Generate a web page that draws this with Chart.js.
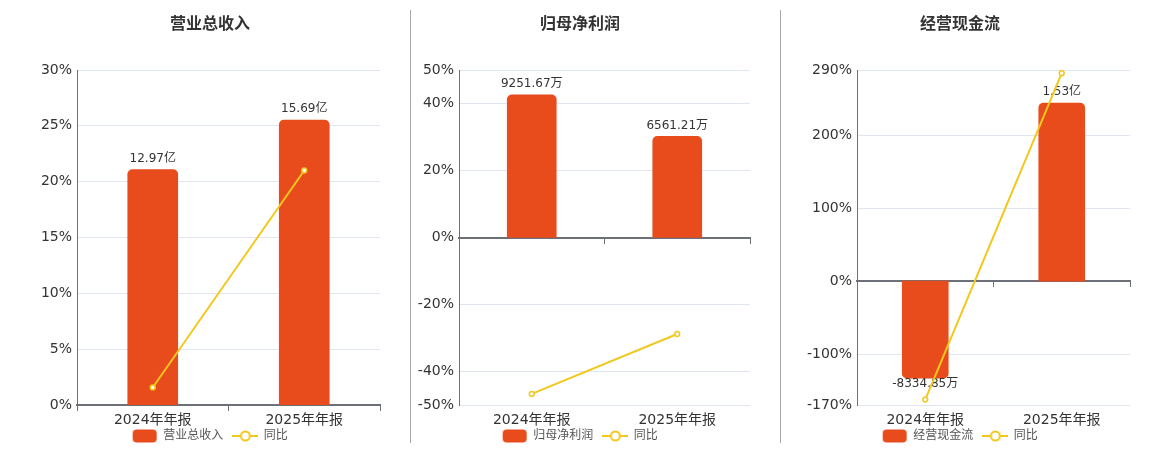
<!DOCTYPE html>
<html><head><meta charset="utf-8">
<script src="https://cdn.jsdelivr.net/npm/chart.js@4.4.1/dist/chart.umd.min.js"></script>
<style>
html,body{margin:0;padding:0;background:#fff;}
#wrap{position:relative;width:1160px;height:450px;overflow:hidden;background:#fff;}
.panel{position:absolute;top:0;width:360px;height:450px;}
.sep{position:absolute;top:10px;width:1px;height:433px;background:#a8a8a8;z-index:5;}
</style></head><body>
<div id="wrap">
<div class="panel" style="left:30px"><canvas id="c1"></canvas></div>
<div class="panel" style="left:400px"><canvas id="c2"></canvas></div>
<div class="panel" style="left:780px"><canvas id="c3"></canvas></div>
<div class="sep" style="left:410px"></div>
<div class="sep" style="left:780px"></div>
</div>
<script>
// ---- data ----
const categories = ['2024年年报', '2025年年报'];

const revenueTitle = '营业总收入';
const revenueValues = [12.97, 15.69];          // 亿
const revenueLabels = ['12.97亿', '15.69亿'];
const revenueYoY = [1.57, 21.0];                // %
const revenueTicks = [0, 5, 10, 15, 20, 25, 30];

const profitTitle = '归母净利润';
const profitValues = [9251.67, 6561.21];       // 万
const profitLabels = ['9251.67万', '6561.21万'];
const profitYoY = [-46.7, -28.8];
const profitTicks = [-50, -40, -20, 0, 20, 40, 50];

const cashTitle = '经营现金流';
const cashValues = [-8334.85, 15300];          // 万
const cashLabels = ['-8334.85万', '1.53亿'];
const cashYoY = [-162.5, 285.7];
const cashTicks = [-170, -100, 0, 100, 200, 290];

const yoyName = '同比';

// ---- styles ----
const FONT = "'DejaVu Sans','Noto Sans CJK SC',sans-serif";
Chart.defaults.font.family = FONT;
Chart.defaults.color = '#333';
const BAR = '#E84B1C', LINE = '#F2C81D', AXIS = '#6E7079', GRID = '#E0E6F1';

function icon(kind) {
  const c = document.createElement('canvas');
  c.width = 26; c.height = 14;
  const g = c.getContext('2d');
  if (kind === 'bar') {
    g.fillStyle = BAR; g.beginPath(); g.roundRect(1, 0.5, 24, 13, 4); g.fill();
  } else {
    g.strokeStyle = LINE; g.lineWidth = 2;
    g.beginPath(); g.moveTo(0, 7); g.lineTo(26, 7); g.stroke();
    g.beginPath(); g.arc(13, 7, 4.5, 0, Math.PI * 2); g.fillStyle = '#fff'; g.fill(); g.stroke();
  }
  return c;
}
const barIcon = icon('bar'), lineIcon = icon('line');

const barLabelPlugin = {
  id: 'barLabels',
  afterDatasetDraw(chart, args) {
    const ds = chart.data.datasets[args.index];
    if (!ds.valueLabels) return;
    const ctx = chart.ctx;
    ctx.save();
    ctx.font = '12px ' + FONT;
    ctx.fillStyle = '#333'; ctx.textAlign = 'center'; ctx.textBaseline = 'middle';
    args.meta.data.forEach((el, i) => {
      const v = ds.data[i];
      ctx.fillText(ds.valueLabels[i], el.x, v >= 0 ? el.y - 11 : el.y + 6);
    });
    ctx.restore();
  }
};

function build(id, title, barVals, barLabels, yoy, ticks, y1min, y1max, barW, yWidth) {
  return new Chart(document.getElementById(id), {
    type: 'bar',
    data: {
      labels: categories,
      datasets: [
        { type: 'bar', label: title, data: barVals, valueLabels: barLabels, backgroundColor: BAR,
          borderRadius: 5, borderSkipped: 'start', barThickness: barW, yAxisID: 'y1', xAxisID: 'x', order: 1 },
        { type: 'line', label: yoyName, data: yoy, borderColor: LINE, borderWidth: 2, pointRadius: 2.4,
          pointBorderWidth: 1.5, pointBackgroundColor: '#fff', pointBorderColor: LINE, tension: 0,
          yAxisID: 'y', xAxisID: 'x', order: 0 }
      ]
    },
    plugins: [barLabelPlugin],
    options: {
      responsive: true, maintainAspectRatio: false, animation: false,
      events: [],
      layout: { padding: { left: 0, right: 0, top: 0, bottom: -2 } },
      plugins: {
        tooltip: { enabled: false },
        title: { display: true, text: title, color: '#333', font: { size: 16, weight: 'bold' },
                 padding: { top: 15, bottom: 35.8 } },
        legend: {
          position: 'bottom',
          labels: {
            usePointStyle: true, pointStyleWidth: 25, padding: 2, color: '#555', font: { size: 12 },
            generateLabels: (chart) => chart.data.datasets.map((ds, i) => ({
              text: i === 0 ? ds.label + '  ' : ds.label, pointStyle: i === 0 ? barIcon : lineIcon,
              fillStyle: 'rgba(0,0,0,0)', strokeStyle: 'rgba(0,0,0,0)', lineWidth: 0,
              hidden: false, datasetIndex: i, fontColor: '#555'
            }))
          }
        }
      },
      scales: {
        x: { type: 'category', axis: 'x', position: { y: 0 }, offset: true,
             grid: { display: true, drawOnChartArea: false, drawTicks: true, tickLength: 5, tickColor: AXIS, offset: true },
             border: { display: true, color: AXIS, width: 2 },
             ticks: { display: false } },
        xb: { type: 'category', axis: 'x', position: 'bottom', offset: true,
              grid: { display: false, drawTicks: false }, border: { display: false },
              ticks: { padding: 8, color: '#333', font: { size: 14, lineHeight: 1 }, maxRotation: 0, autoSkip: false },
              afterFit: (s) => { s.height = 23; } },
        y: { type: 'linear', position: 'left', min: ticks[0], max: ticks[ticks.length - 1],
             afterBuildTicks: (s) => { s.ticks = ticks.map(v => ({ value: v })); },
             grid: { color: GRID, drawTicks: false },
             border: { display: true, color: AXIS, width: 1 },
             ticks: { padding: 5, color: '#333', font: { size: 14 }, autoSkip: false, callback: (v) => v + '%' },
             afterFit: (s) => { s.width = yWidth; } },
        yr: { type: 'linear', axis: 'y', position: 'right',
              grid: { display: false, drawTicks: false }, border: { display: false }, ticks: { display: false },
              afterFit: (s) => { s.width = 10; } },
        y1: { type: 'linear', display: false, min: y1min, max: y1max }
      }
    }
  });
}

build('c1', revenueTitle, revenueValues, revenueLabels, revenueYoY, revenueTicks, 0, 18.45, 50, 47);
build('c2', profitTitle, profitValues, profitLabels, profitYoY, profitTicks, -10870, 10870, 49, 59);
build('c3', cashTitle, cashValues, cashLabels, cashYoY, cashTicks, -10640, 18150, 46, 77);
</script>
</body></html>
